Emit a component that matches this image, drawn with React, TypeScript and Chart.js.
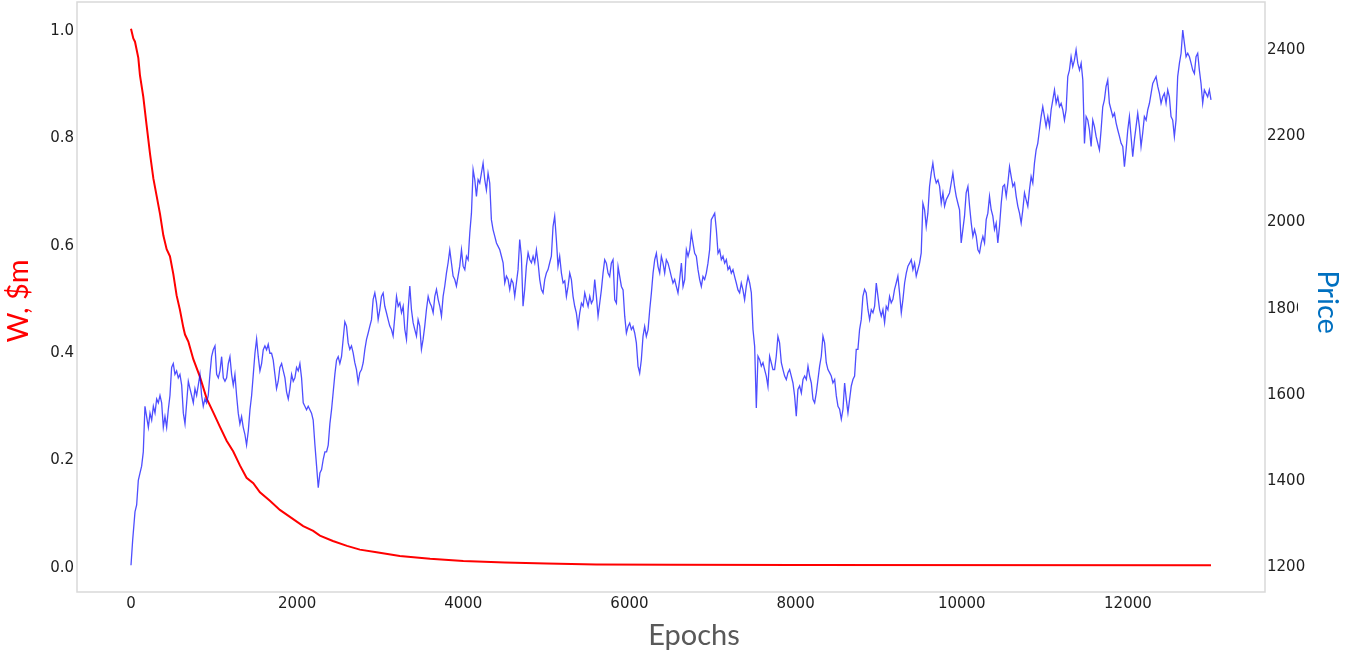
import React, { useEffect, useRef } from 'react';
import { Chart, registerables } from 'chart.js';

Chart.register(...registerables);

// ---- Data ----
const X_TICKS = [0, 2000, 4000, 6000, 8000, 10000, 12000];
const W_TICKS = [0.0, 0.2, 0.4, 0.6, 0.8, 1.0];
const PRICE_TICKS = [1200, 1400, 1600, 1800, 2000, 2200, 2400];

// Wealth curve W ($m) against epochs
const W_EPOCHS = [
  0, 28, 48, 88, 108, 148, 188, 229, 269, 309, 349, 389, 429, 469, 509, 549, 589, 630, 650, 690,
  750, 830, 910, 990, 1071, 1151, 1231, 1311, 1391, 1472, 1552, 1672, 1792, 1913, 2073, 2193, 2274,
  2430, 2600, 2755, 2956, 3236, 3600, 4000, 4500, 5000, 5600, 6500, 8000, 13000,
];
const W_VALUES = [
  1.0, 0.982, 0.976, 0.946, 0.913, 0.873, 0.82, 0.767, 0.721, 0.688, 0.655, 0.615, 0.589, 0.576, 0.543,
  0.503, 0.476, 0.443, 0.43, 0.417, 0.384, 0.351, 0.311, 0.285, 0.258, 0.232, 0.212, 0.186, 0.163,
  0.153, 0.136, 0.12, 0.103, 0.09, 0.073, 0.064, 0.055, 0.045, 0.036, 0.029, 0.024, 0.017, 0.012,
  0.008, 0.005, 0.003, 0.0015, 0.0006, 0.0002, 0.0001,
];

// Price series against epochs
const PRICE_EPOCHS = [
  0, 20, 48, 68, 88, 108, 128, 148, 168, 188, 209, 229, 249, 269, 289, 309, 329, 349, 369, 389,
  409, 429, 449, 469, 489, 509, 529, 549, 569, 589, 610, 630, 650, 670, 690, 710, 730, 750, 770, 790,
  810, 830, 850, 870, 890, 910, 930, 950, 970, 990, 1011, 1031, 1051, 1071, 1091, 1111, 1131, 1151, 1171, 1191,
  1211, 1231, 1251, 1271, 1291, 1311, 1331, 1351, 1371, 1391, 1412, 1432, 1452, 1472, 1492, 1512, 1532, 1552, 1572, 1592,
  1612, 1632, 1652, 1672, 1692, 1712, 1732, 1752, 1772, 1792, 1813, 1833, 1853, 1873, 1893, 1913, 1933, 1953, 1973, 1993,
  2013, 2033, 2053, 2073, 2093, 2113, 2133, 2153, 2173, 2193, 2214, 2234, 2254, 2274, 2294, 2314, 2334, 2354, 2374, 2394,
  2414, 2434, 2454, 2474, 2494, 2514, 2534, 2554,
  2574, 2594, 2614, 2634, 2654, 2674, 2694, 2714, 2734, 2754, 2775, 2795, 2815, 2835, 2855, 2875, 2895, 2915, 2935, 2955,
  2975, 2995, 3015, 3035, 3055, 3075, 3095, 3115, 3135, 3155, 3176, 3196, 3216, 3236, 3256, 3276, 3296, 3316, 3336, 3356,
  3376, 3396, 3416, 3436, 3456, 3476, 3496, 3516, 3536, 3556, 3577, 3597, 3617, 3637, 3657, 3677, 3697, 3717, 3737, 3757,
  3777, 3797, 3817, 3837, 3857, 3877, 3897, 3917, 3937, 3957, 3978, 3998, 4018, 4038, 4058, 4078, 4098, 4118, 4138, 4158,
  4178, 4198, 4218, 4238, 4258, 4278, 4298, 4318, 4338, 4358, 4379, 4399, 4419, 4439, 4459, 4479, 4499, 4519, 4539, 4559,
  4579, 4599, 4619, 4639, 4659, 4679, 4699, 4719, 4739, 4759, 4780, 4800, 4820, 4840, 4860, 4880, 4900, 4920, 4940, 4960,
  4980, 5000, 5020, 5040, 5060, 5080, 5100, 5120, 5140, 5160, 5181, 5201,
  5221, 5241, 5261, 5281, 5301, 5321, 5341, 5361, 5381, 5401, 5422, 5442, 5462, 5482, 5502, 5522, 5542, 5562, 5582, 5602,
  5622, 5642, 5662, 5682, 5702, 5722, 5742, 5762, 5782, 5802, 5823, 5843, 5863, 5883, 5903, 5923, 5943, 5963, 5983, 6003,
  6023, 6043, 6063, 6083, 6103, 6123, 6143, 6163, 6183, 6203, 6224, 6244, 6264, 6284, 6304, 6324, 6344, 6364, 6384, 6404,
  6424, 6444, 6464, 6484, 6504, 6524, 6544, 6564, 6584, 6604, 6625, 6645, 6665, 6685, 6705, 6725, 6745, 6765, 6785, 6805,
  6825, 6845, 6865, 6885, 6905, 6925, 6945, 6965, 6985, 7005, 7026, 7046, 7066, 7086, 7106, 7126, 7146, 7166, 7186, 7206,
  7226, 7246, 7266, 7286, 7306, 7326, 7346, 7366, 7386, 7406, 7427, 7447, 7467, 7487, 7507, 7527, 7547, 7567, 7587, 7607,
  7627, 7647, 7667, 7687, 7707, 7727, 7747, 7767, 7787, 7807, 7828, 7848,
  7868, 7888, 7908, 7928, 7948, 7968, 7988, 8008, 8028, 8048, 8069, 8089, 8109, 8129, 8149, 8169, 8189, 8209, 8229, 8249,
  8269, 8289, 8309, 8329, 8349, 8369, 8389, 8409, 8429, 8449, 8470, 8490, 8510, 8530, 8550, 8570, 8590, 8610, 8630, 8650,
  8670, 8690, 8710, 8730, 8750, 8770, 8790, 8810, 8830, 8850, 8871, 8891, 8911, 8931, 8951, 8971, 8991, 9011, 9031, 9051,
  9071, 9091, 9111, 9131, 9151, 9171, 9191, 9211, 9231, 9251, 9272, 9292, 9312, 9332, 9352, 9372, 9392, 9412, 9432, 9452,
  9472, 9492, 9512, 9532, 9552, 9572, 9592, 9612, 9632, 9652, 9673, 9693, 9713, 9733, 9753, 9773, 9793, 9813, 9833, 9853,
  9873, 9893, 9913, 9933, 9953, 9973, 9993, 10013, 10033, 10053, 10074, 10094, 10114, 10134, 10154, 10174, 10194, 10214, 10234, 10254,
  10274, 10294, 10314, 10334, 10354, 10374, 10394, 10414, 10434, 10454, 10475, 10495,
  10515, 10535, 10555, 10575, 10595, 10615, 10635, 10655, 10675, 10695, 10715, 10735, 10755, 10775, 10795, 10815, 10835, 10855, 10875, 10895,
  10915, 10935, 10955, 10975, 10995, 11015, 11036, 11056, 11076, 11096, 11116, 11136, 11156, 11176, 11196, 11216, 11236, 11256, 11276, 11296,
  11316, 11336, 11356, 11376, 11396, 11417, 11437, 11457, 11477, 11497, 11517, 11537, 11557, 11577, 11597, 11617, 11637, 11657, 11677, 11697,
  11717, 11737, 11757, 11777, 11797, 11818, 11838, 11858, 11878, 11898, 11918, 11938, 11958, 11978, 11998, 12018, 12038, 12058, 12078, 12098,
  12118, 12138, 12158, 12178, 12198, 12219, 12239, 12259, 12279, 12299, 12319, 12339, 12359, 12379, 12399, 12419, 12439, 12459, 12479, 12499,
  12519, 12539, 12559, 12579, 12599, 12620, 12640, 12660, 12680, 12700, 12720, 12740, 12760, 12780, 12800, 12820, 12840, 12860, 12880, 12900,
  12920, 12940, 12960, 12980, 13000,
];
const PRICE_VALUES = [
  1200, 1258, 1324, 1340, 1397, 1414, 1430, 1463, 1569, 1545, 1520, 1553, 1537, 1569, 1553, 1586, 1577, 1594, 1577, 1520,
  1545, 1520, 1561, 1594, 1659, 1668, 1643, 1651, 1635, 1643, 1618, 1553, 1528, 1577, 1627, 1610, 1594, 1577, 1610, 1594,
  1618, 1643, 1594, 1569, 1586, 1577, 1594, 1643, 1684, 1700, 1709, 1643, 1635, 1651, 1684, 1635, 1627, 1635, 1668, 1684,
  1643, 1618, 1643, 1594, 1553, 1528, 1545, 1520, 1504, 1479, 1512, 1561, 1594, 1643, 1692, 1725, 1684, 1651, 1668, 1700,
  1709, 1700, 1713, 1692, 1692, 1676, 1643, 1610, 1627, 1659, 1668, 1651, 1635, 1602, 1586, 1610, 1643, 1627, 1635, 1659,
  1651, 1668, 1635, 1577, 1569, 1561, 1569, 1561, 1553, 1537, 1479, 1430, 1380, 1414, 1422, 1446, 1463, 1463, 1479, 1528,
  1561, 1602, 1643, 1676, 1684, 1668, 1684, 1725,
  1765, 1755, 1716, 1701, 1709, 1693, 1670, 1654, 1624, 1647, 1654, 1670, 1701, 1724, 1739, 1755, 1770, 1817, 1832, 1809,
  1770, 1793, 1824, 1832, 1801, 1786, 1770, 1755, 1747, 1732, 1778, 1824, 1801, 1809, 1786, 1801, 1747, 1724, 1793, 1848,
  1793, 1763, 1747, 1732, 1770, 1755, 1701, 1724, 1755, 1793, 1824, 1809, 1801, 1786, 1824, 1840, 1817, 1801, 1778, 1824,
  1848, 1878, 1902, 1932, 1902, 1871, 1863, 1848, 1871, 1894, 1932, 1894, 1886, 1917, 1909, 1971, 2017, 2118, 2095, 2056,
  2095, 2087, 2110, 2133, 2095, 2071, 2110, 2087, 2002, 1979, 1963, 1948, 1940, 1932, 1917, 1902, 1855, 1871, 1863, 1840,
  1863, 1855, 1824, 1855, 1886, 1956, 1917, 1801, 1840, 1894, 1925, 1909, 1902, 1917, 1902, 1932, 1902, 1863, 1840, 1832,
  1863, 1878, 1886, 1902, 1917, 1986, 2010, 1956, 1894, 1917, 1878, 1855,
  1860, 1824, 1847, 1878, 1863, 1824, 1801, 1785, 1754, 1785, 1808, 1801, 1832, 1816, 1801, 1824, 1808, 1816, 1863, 1824,
  1778, 1808, 1839, 1878, 1909, 1901, 1878, 1870, 1901, 1909, 1816, 1808, 1893, 1870, 1847, 1839, 1778, 1739, 1754, 1762,
  1747, 1754, 1739, 1716, 1662, 1646, 1677, 1731, 1754, 1731, 1747, 1793, 1832, 1878, 1909, 1924, 1893, 1878, 1917, 1901,
  1878, 1909, 1901, 1886, 1870, 1855, 1863, 1847, 1832, 1863, 1901, 1847, 1863, 1932, 1917, 1932, 1971, 1947, 1924, 1917,
  1886, 1863, 1847, 1870, 1863, 1878, 1901, 1932, 2002, 2009, 2017, 1978, 1924, 1932, 1909, 1917, 1901, 1909, 1886, 1893,
  1878, 1886, 1870, 1855, 1839, 1832, 1855, 1839, 1816, 1847, 1870, 1855, 1832, 1747, 1708, 1565, 1685, 1677, 1662, 1670,
  1654, 1639, 1615, 1685, 1670, 1654, 1654, 1685, 1731, 1716, 1670, 1654,
  1639, 1631, 1647, 1654, 1639, 1623, 1593, 1546, 1608, 1616, 1600, 1631, 1639, 1631, 1662, 1639, 1623, 1585, 1577, 1600,
  1631, 1662, 1685, 1732, 1716, 1670, 1654, 1647, 1639, 1623, 1631, 1593, 1569, 1562, 1539, 1562, 1623, 1585, 1554, 1585,
  1616, 1631, 1639, 1701, 1701, 1747, 1770, 1824, 1840, 1832, 1793, 1770, 1793, 1786, 1801, 1855, 1824, 1793, 1778, 1793,
  1763, 1801, 1793, 1824, 1809, 1817, 1840, 1855, 1871, 1832, 1786, 1817, 1855, 1878, 1894, 1901, 1909, 1886, 1901, 1871,
  1886, 1901, 1925, 2040, 2025, 1986, 2017, 2079, 2110, 2133, 2102, 2087, 2094, 2079, 2040, 2064, 2033, 2048, 2056, 2064,
  2087, 2110, 2079, 2056, 2040, 2025, 1948, 1979, 2010, 2064, 2079, 2033, 1994, 1963, 1979, 1963, 1932, 1925, 1948, 1963,
  1948, 2002, 2017, 2056, 2025, 2010, 1979, 1994, 1948, 1986, 2040, 2079,
  2083, 2056, 2087, 2125, 2102, 2079, 2087, 2056, 2033, 2017, 1994, 2025, 2064, 2048, 2033, 2071, 2102, 2087, 2133, 2164,
  2179, 2210, 2241, 2264, 2241, 2218, 2241, 2218, 2257, 2280, 2303, 2272, 2287, 2264, 2272, 2257, 2233, 2257, 2334, 2349,
  2380, 2357, 2372, 2396, 2365, 2349, 2365, 2326, 2179, 2241, 2233, 2210, 2172, 2233, 2218, 2195, 2179, 2164, 2210, 2264,
  2280, 2311, 2326, 2272, 2257, 2241, 2249, 2226, 2210, 2195, 2179, 2172, 2125, 2164, 2210, 2241, 2195, 2148, 2187, 2218,
  2249, 2218, 2172, 2203, 2241, 2233, 2257, 2272, 2295, 2318, 2326, 2334, 2311, 2295, 2272, 2287, 2295, 2272, 2303, 2287,
  2241, 2233, 2195, 2233, 2334, 2365, 2388, 2442, 2411, 2380, 2388, 2380, 2365, 2349, 2341, 2380, 2388, 2349, 2318, 2272,
  2303, 2295, 2287, 2303, 2280,
];

const W_LABEL = 'W, $m';
const PRICE_LABEL = 'Price';
const X_LABEL = 'Epochs';

const TICK_FONT = { family: '"DejaVu Sans", sans-serif', size: 15 };
const TICK_FONT_CSS = '15px "DejaVu Sans", sans-serif';
const TICK_COLOR = '#1e1e1e';
const TITLE_FONT = '29px Lato, "Open Sans", sans-serif';

const decorPlugin = {
  id: 'decor',
  beforeDraw(chart: any) {
    const { ctx, width, height } = chart;
    ctx.save();
    ctx.fillStyle = '#ffffff';
    ctx.fillRect(0, 0, width, height);
    ctx.restore();
  },
  afterDraw(chart: any) {
    const { ctx, chartArea: a, scales } = chart;
    ctx.save();

    // y tick labels, placed through the chart's own scales
    ctx.font = TICK_FONT_CSS;
    ctx.fillStyle = TICK_COLOR;
    ctx.textBaseline = 'middle';
    ctx.textAlign = 'right';
    W_TICKS.forEach((v) => {
      ctx.fillText(v.toFixed(1), a.left - 3, scales.yW.getPixelForValue(v) + 2.5);
    });
    ctx.textAlign = 'left';
    PRICE_TICKS.forEach((v) => {
      ctx.fillText(String(v), a.right + 2, scales.yP.getPixelForValue(v) + 2);
    });

    // frame around plot area
    ctx.strokeStyle = '#d9d9d9';
    ctx.lineWidth = 1.5;
    ctx.strokeRect(a.left, a.top, a.right - a.left, a.bottom - a.top);

    ctx.font = TITLE_FONT;
    ctx.textAlign = 'center';
    ctx.textBaseline = 'alphabetic';

    // x title
    ctx.fillStyle = '#595959';
    ctx.fillText(X_LABEL, 694, 645);

    // left title (rotated, reading bottom to top)
    ctx.save();
    ctx.translate(28, 301);
    ctx.rotate(-Math.PI / 2);
    ctx.fillStyle = '#ff0000';
    ctx.fillText(W_LABEL, 0, 0);
    ctx.restore();

    // right title box (covers part of a tick label, as in the reference)
    ctx.fillStyle = '#ffffff';
    ctx.fillRect(1298, 262, 60, 80);
    ctx.save();
    ctx.translate(1318, 302);
    ctx.rotate(Math.PI / 2);
    ctx.fillStyle = '#0070C0';
    ctx.fillText(PRICE_LABEL, 0, 0);
    ctx.restore();

    ctx.restore();
  },
};

export default function App() {
  const canvasRef = useRef<HTMLCanvasElement | null>(null);

  useEffect(() => {
    const canvas = canvasRef.current;
    if (!canvas) return;

    const n = Math.min(PRICE_EPOCHS.length, PRICE_VALUES.length);
    const priceData = [];
    for (let i = 0; i < n; i++) priceData.push({ x: PRICE_EPOCHS[i], y: PRICE_VALUES[i] });
    const m = Math.min(W_EPOCHS.length, W_VALUES.length);
    const wData = [];
    for (let i = 0; i < m; i++) wData.push({ x: W_EPOCHS[i], y: W_VALUES[i] });

    const chart = new Chart(canvas, {
      type: 'line',
      data: {
        datasets: [
          {
            label: PRICE_LABEL,
            data: priceData,
            yAxisID: 'yP',
            borderColor: 'rgba(10, 10, 255, 0.72)',
            borderWidth: 1.3,
            pointRadius: 0,
            tension: 0,
            order: 0,
          },
          {
            label: W_LABEL,
            data: wData,
            yAxisID: 'yW',
            borderColor: '#ff0000',
            borderWidth: 2,
            pointRadius: 0,
            tension: 0,
            order: 1,
          },
        ],
      },
      options: {
        responsive: false,
        animation: false,
        events: [],
        layout: { padding: { top: 2, left: 0, right: 0, bottom: 0 } },
        plugins: {
          legend: { display: false },
          tooltip: { enabled: false },
          title: { display: false },
        },
        scales: {
          x: {
            type: 'linear',
            min: -650,
            max: 13650,
            grid: { display: false, drawTicks: false },
            border: { display: false },
            ticks: {
              font: TICK_FONT,
              color: TICK_COLOR,
              padding: 3,
              maxRotation: 0,
              autoSkip: false,
              callback: (v: any) => String(v),
            },
            afterBuildTicks: (s: any) => {
              s.ticks = X_TICKS.map((v) => ({ value: v }));
            },
            afterFit: (s: any) => {
              s.height = 65;
              s.paddingLeft = 0;
              s.paddingRight = 0;
            },
          },
          yW: {
            type: 'linear',
            position: 'left',
            min: -0.05,
            max: 1.05,
            grid: { display: false, drawTicks: false },
            border: { display: false },
            ticks: { display: false },
            afterBuildTicks: (s: any) => {
              s.ticks = W_TICKS.map((v) => ({ value: v }));
            },
            afterFit: (s: any) => {
              s.width = 77;
              s.paddingTop = 0;
              s.paddingBottom = 0;
            },
          },
          yP: {
            type: 'linear',
            position: 'right',
            min: 1138,
            max: 2507,
            grid: { display: false, drawTicks: false },
            border: { display: false },
            ticks: { display: false },
            afterBuildTicks: (s: any) => {
              s.ticks = PRICE_TICKS.map((v) => ({ value: v }));
            },
            afterFit: (s: any) => {
              s.width = 93;
              s.paddingTop = 0;
              s.paddingBottom = 0;
            },
          },
        },
      } as any,
      plugins: [decorPlugin],
    });

    return () => {
      chart.destroy();
    };
  }, []);

  return (
    <canvas
      ref={canvasRef}
      width={1358}
      height={657}
      style={{ position: 'absolute', left: 0, top: 0, display: 'block' }}
    />
  );
}
